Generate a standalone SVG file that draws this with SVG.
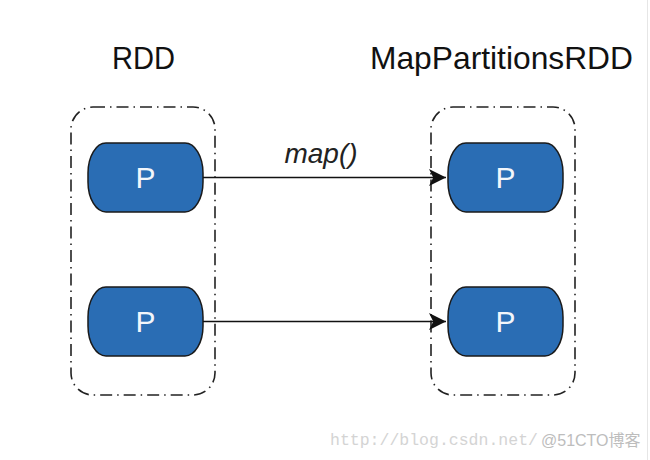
<svg xmlns="http://www.w3.org/2000/svg" width="650" height="460" viewBox="0 0 650 460">
<defs>
<style>
.title{font-family:"Liberation Sans",Arial,sans-serif;font-size:32px;fill:#111}
.cont{fill:none;stroke:#222;stroke-width:1.6;stroke-dasharray:12 5 1.5 5}
.part{fill:#2a6db4;stroke:#1a1a1a;stroke-width:1.5}
.plabel{font-family:"Liberation Sans",Arial,sans-serif;font-size:30px;fill:#f2f6fb;text-anchor:middle}
.edge{stroke:#111;stroke-width:1.5;fill:none}
.elabel{font-family:"Liberation Sans",Arial,sans-serif;font-size:28px;font-style:italic;fill:#222;text-anchor:middle}
</style>
<marker id="arr" viewBox="0 0 16 16" refX="16" refY="8" markerWidth="17" markerHeight="17" markerUnits="userSpaceOnUse" orient="auto">
<path d="M0,0 L16,8 L0,16 L4,8 z" fill="#111"/>
</marker>
</defs>
<rect width="650" height="460" fill="#fff"/>
<line x1="647.5" y1="0" x2="647.5" y2="460" stroke="#e6e6e6" stroke-width="1"/>
<text class="title" x="112" y="69" textLength="63" lengthAdjust="spacingAndGlyphs">RDD</text>
<text class="title" x="370" y="69" textLength="263" lengthAdjust="spacingAndGlyphs">MapPartitionsRDD</text>
<g id="rdd"><rect class="cont" x="71" y="107" width="144" height="288" rx="22" ry="22"/></g>
<g id="mprdd"><rect class="cont" x="431" y="107" width="144" height="288" rx="22" ry="22"/></g>
<g id="p1"><rect class="part" x="88" y="143" width="115" height="69" rx="18" ry="30"/><text class="plabel" x="145.5" y="188">P</text></g>
<g id="p2"><rect class="part" x="88" y="287" width="115" height="69" rx="18" ry="30"/><text class="plabel" x="145.5" y="332">P</text></g>
<g id="p3"><rect class="part" x="448" y="143" width="115" height="69" rx="18" ry="30"/><text class="plabel" x="505.5" y="188">P</text></g>
<g id="p4"><rect class="part" x="448" y="287" width="115" height="69" rx="18" ry="30"/><text class="plabel" x="505.5" y="332">P</text></g>
<g id="connectors">
<line class="edge" x1="203" y1="177.5" x2="446" y2="177.5" marker-end="url(#arr)"/>
<line class="edge" x1="203" y1="321.5" x2="446" y2="321.5" marker-end="url(#arr)"/>
<text class="elabel" x="321" y="163">map()</text>
</g>
<text x="330" y="445" font-family="'Liberation Mono','DejaVu Sans Mono',monospace" font-size="16.5" fill="#d4d4d4">http://blog.csdn.net/</text>
<text x="541" y="446" font-family="'Liberation Sans','Noto Sans CJK SC',sans-serif" font-size="16" fill="#bdbdbd">@51CTO博客</text>
</svg>
